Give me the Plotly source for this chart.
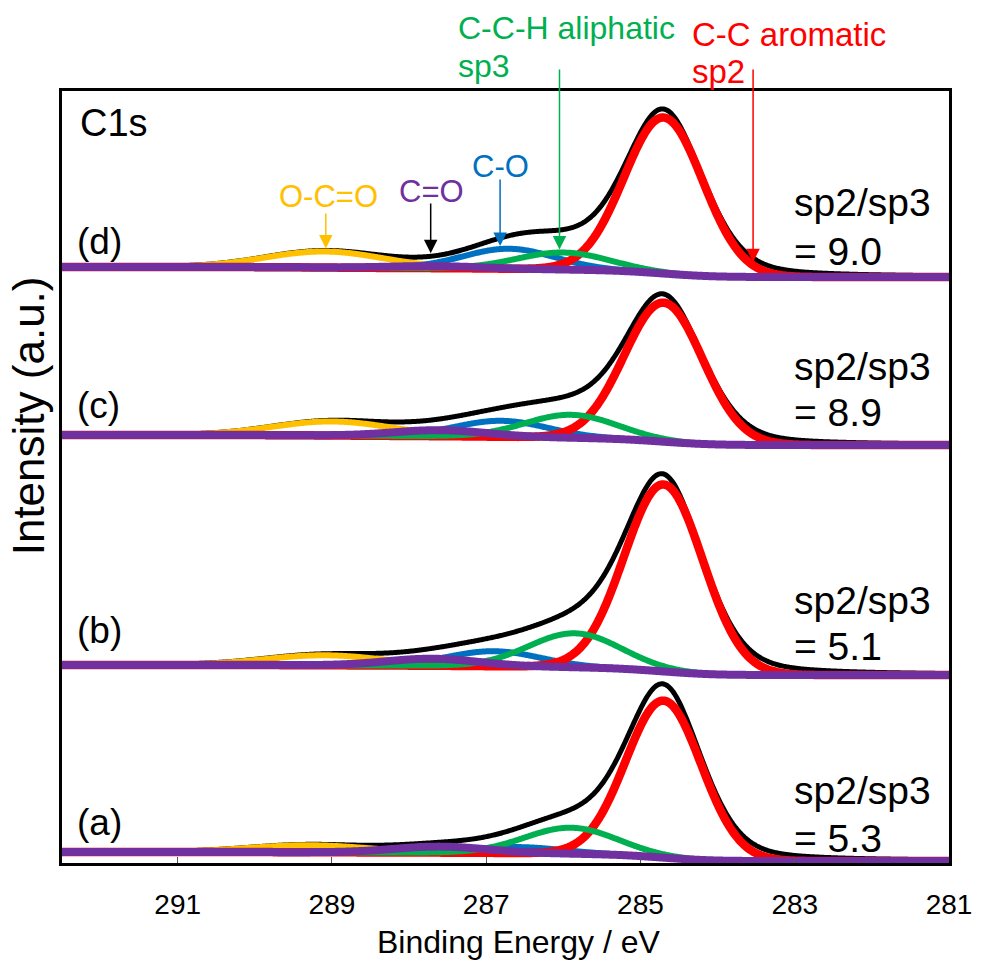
import numpy as np
import plotly.graph_objects as go

# ---------------- data ----------------
E_MIN, E_MAX = 281.0, 292.5
x_ticks = [291, 289, 287, 285, 283, 281]
y_range = [0, 772]

panel_labels = ["(a)", "(b)", "(c)", "(d)"]
ratio_values = ["= 5.3", "= 5.1", "= 8.9", "= 9.0"]

# background (Shirley) levels of each stacked spectrum: high-BE side / low-BE side
bg_high = [11, 198, 428, 596]
bg_low = [2, 188, 418, 586]
# top of the measured envelope (black) in each panel
envelope_top = [179, 389, 569, 754]

# C-C aromatic sp2 (red)
arom_pos = [284.7, 284.7, 284.7, 284.7]
arom_amp = [157, 187, 139, 156]
arom_fwhm = [1.15, 1.2, 1.2, 1.2]
# C-C-H aliphatic sp3 (green)
aliph_pos = [285.9, 285.85, 285.9, 286.0]
aliph_amp = [26, 34, 23, 17]
aliph_fwhm = [1.4, 1.4, 1.4, 1.4]
# C-O (blue)
co_pos = [286.6, 286.9, 286.8, 286.7]
co_amp = [6, 15, 16, 20]
co_fwhm = [1.4, 1.4, 1.4, 1.4]
# C=O (purple)
ceo_pos = [287.6, 287.7, 287.6, 287.7]
ceo_amp = [6, 7, 6, 2]
ceo_fwhm = [1.4, 1.4, 1.4, 1.4]
# O-C=O (yellow)
ococ_pos = [289.3, 289.1, 289.0, 289.1]
ococ_amp = [7, 10, 14, 16]
ococ_fwhm = [1.8, 1.8, 1.8, 1.8]

# ---------------- styles ----------------
RED, GREEN, BLUE, PURPLE, YELLOW, BLACK = "#FF0000", "#00B050", "#0070C0", "#7030A0", "#FFC000", "#000000"
FONT = "Liberation Sans, Arial, sans-serif"


def gauss(e, c, a, w):
    return a * np.exp(-4 * np.log(2) * ((e - c) / w) ** 2)


def pseudo_voigt(e, c, a, w, eta):
    g = np.exp(-4 * np.log(2) * ((e - c) / w) ** 2)
    l = 1.0 / (1.0 + 4 * ((e - c) / w) ** 2)
    return a * ((1 - eta) * g + eta * l)


energy = np.linspace(E_MIN, E_MAX, 921)

fig = go.Figure()
model = []
for i in range(4):
    arom = gauss(energy, arom_pos[i], arom_amp[i], arom_fwhm[i])
    aliph = gauss(energy, aliph_pos[i], aliph_amp[i], aliph_fwhm[i])
    co = gauss(energy, co_pos[i], co_amp[i], co_fwhm[i])
    ceo = gauss(energy, ceo_pos[i], ceo_amp[i], ceo_fwhm[i])
    ococ = gauss(energy, ococ_pos[i], ococ_amp[i], ococ_fwhm[i])
    total = arom + aliph + co + ceo + ococ
    cum = np.concatenate([[0], np.cumsum((total[1:] + total[:-1]) / 2)])
    bg = bg_low[i] + (bg_high[i] - bg_low[i]) * cum / cum[-1]
    others = aliph + co + ceo + ococ
    k = int(np.argmin(np.abs(energy - arom_pos[i])))
    env_amp = envelope_top[i] - bg[k] - others[k]
    envelope = bg + others + pseudo_voigt(energy, arom_pos[i], env_amp, arom_fwhm[i], 0.3)
    curves = dict(envelope=envelope, ococ=bg + ococ, co=bg + co, arom=bg + arom,
                  aliph=bg + aliph, ceo=bg + ceo)
    model.append(curves)
    for key, col, w in [("envelope", BLACK, 5), ("ococ", YELLOW, 6), ("co", BLUE, 6),
                        ("arom", RED, 8.5), ("aliph", GREEN, 6), ("ceo", PURPLE, 8)]:
        fig.add_trace(go.Scatter(x=energy, y=curves[key], mode="lines",
                                 line=dict(color=col, width=w, simplify=False),
                                 showlegend=False, hoverinfo="skip"))


def curve_at(panel, key, e):
    return float(np.interp(e, energy, model[panel][key]))


ann = []
# panel labels and sp2/sp3 ratios
panel_label_y = [41, 233, 458, 622]
ratio_y1 = [73, 263, 497, 661]
ratio_y2 = [25, 217, 451, 612]
for i in range(4):
    ann.append(dict(x=292.33, y=panel_label_y[i], text=panel_labels[i], xanchor="left",
                    yanchor="middle", showarrow=False, font=dict(size=37, color=BLACK, family=FONT)))
    ann.append(dict(x=283.04, y=ratio_y1[i], text="sp2/sp3", xanchor="left",
                    yanchor="middle", showarrow=False, font=dict(size=39, color=BLACK, family=FONT)))
    ann.append(dict(x=283.04, y=ratio_y2[i], text=ratio_values[i], xanchor="left",
                    yanchor="middle", showarrow=False, font=dict(size=39, color=BLACK, family=FONT)))

ann.append(dict(x=292.29, y=740, text="C1s", xanchor="left", yanchor="middle", showarrow=False,
                font=dict(size=38, color=BLACK, family=FONT)))

# component labels
ann.append(dict(x=289.04, y=667, text="O-C=O", showarrow=False, xanchor="center", yanchor="middle",
                font=dict(size=31, color=YELLOW, family=FONT)))
ann.append(dict(x=287.71, y=672, text="C=O", showarrow=False, xanchor="center", yanchor="middle",
                font=dict(size=31, color=PURPLE, family=FONT)))
ann.append(dict(x=286.82, y=697, text="C-O", showarrow=False, xanchor="center", yanchor="middle",
                font=dict(size=31, color=BLUE, family=FONT)))
ann.append(dict(x=287.39, y=1.081, yref="paper", text="C-C-H aliphatic", showarrow=False,
                xanchor="left", yanchor="middle", font=dict(size=32, color=GREEN, family=FONT)))
ann.append(dict(x=287.39, y=1.032, yref="paper", text="sp3", showarrow=False,
                xanchor="left", yanchor="middle", font=dict(size=32, color=GREEN, family=FONT)))
ann.append(dict(x=284.36, y=1.073, yref="paper", text="C-C aromatic", showarrow=False,
                xanchor="left", yanchor="middle", font=dict(size=33, color=RED, family=FONT)))
ann.append(dict(x=284.36, y=1.025, yref="paper", text="sp2", showarrow=False,
                xanchor="left", yanchor="middle", font=dict(size=33, color=RED, family=FONT)))

# arrows in panel (d)
arrows = [(289.08, "ococ", 651, YELLOW), (287.72, "envelope", 661, BLACK), (286.82, "co", 685, BLUE),
          (286.05, "aliph", 795, GREEN), (283.54, "arom", 795, RED)]
for e, key, tail, col in arrows:
    head = curve_at(3, key, e) + 3
    ann.append(dict(x=e, y=head, ax=e, ay=tail, axref="x", ayref="y", text="", showarrow=True,
                    arrowhead=2, arrowsize=1.8, arrowwidth=1.5, arrowcolor=col, standoff=0))

# axis titles
ann.append(dict(x=0.515, y=-0.1282, xref="paper", yref="paper", text="Binding Energy / eV",
                showarrow=False, xanchor="center", yanchor="bottom",
                font=dict(size=32, color=BLACK, family=FONT)))
ann.append(dict(x=-0.038, y=0.579, xref="paper", yref="paper", text="Intensity (a.u.)",
                showarrow=False, xanchor="center", yanchor="middle", textangle=-90,
                font=dict(size=44, color=BLACK, family=FONT)))

fig.update_layout(
    width=984, height=963,
    margin=dict(l=62, r=31, t=91, b=100),
    paper_bgcolor="white", plot_bgcolor="white",
    annotations=ann,
    xaxis=dict(range=[E_MAX, E_MIN], tickvals=x_ticks, ticktext=[str(t) for t in x_ticks],
               ticks="inside", ticklen=6, tickwidth=1, tickcolor="#555555",
               showline=True, linecolor=BLACK, linewidth=3, mirror=True,
               showgrid=False, zeroline=False, ticklabelstandoff=14,
               tickfont=dict(size=28, color=BLACK, family=FONT)),
    yaxis=dict(range=y_range, showticklabels=False, ticks="", showline=True, linecolor=BLACK,
               linewidth=3, mirror=True, showgrid=False, zeroline=False),
)

fig.write_html("out.html")
